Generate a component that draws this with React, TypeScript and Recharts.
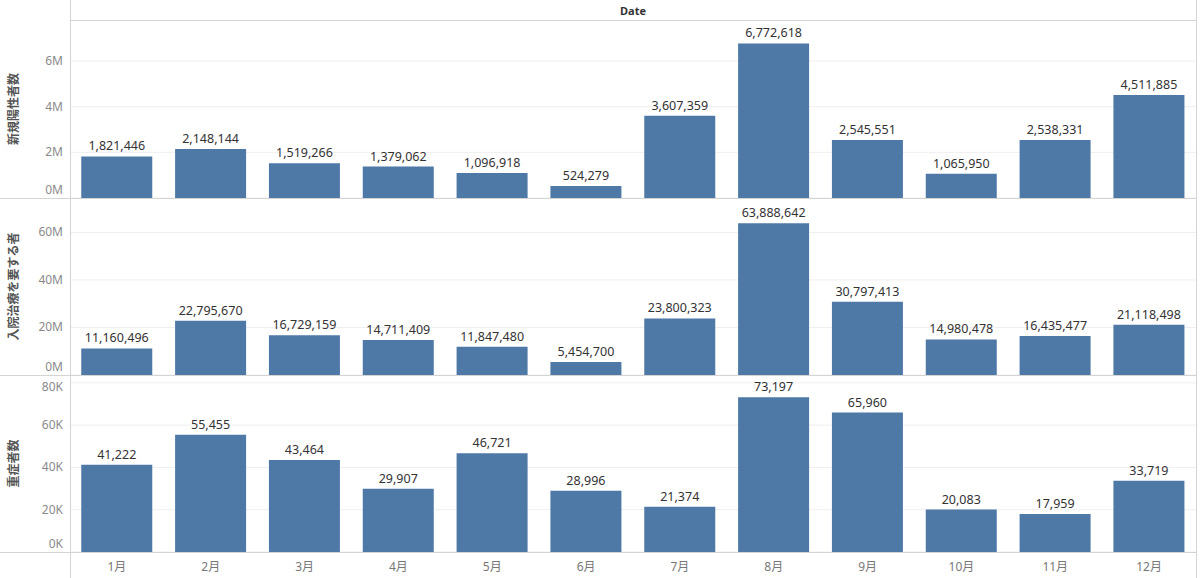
import React from 'react';
import { BarChart, Bar, XAxis, YAxis, CartesianGrid, LabelList } from 'recharts';

const months = ['1月', '2月', '3月', '4月', '5月', '6月', '7月', '8月', '9月', '10月', '11月', '12月'];
const newPositive = [1821446, 2148144, 1519266, 1379062, 1096918, 524279, 3607359, 6772618, 2545551, 1065950, 2538331, 4511885];
const hospitalized = [11160496, 22795670, 16729159, 14711409, 11847480, 5454700, 23800323, 63888642, 30797413, 14980478, 16435477, 21118498];
const severe = [41222, 55455, 43464, 29907, 46721, 28996, 21374, 73197, 65960, 20083, 17959, 33719];

const ticks1 = [0, 2000000, 4000000, 6000000];
const ticks2 = [0, 20000000, 40000000, 60000000];
const ticks3 = [0, 20000, 40000, 60000, 80000];

const titles = ['新規陽性者数', '入院治療を要する者', '重症者数'];

const FONT = '"Noto Sans", "Noto Sans CJK JP", sans-serif';
const BAR = '#4e79a7';

const build = (vals: number[]) => months.map((m, i) => ({ month: m, v: vals[i] }));

const fmtM = (v: number) => `${Math.round(v / 1000000)}M`;
const fmtK = (v: number) => `${Math.round(v / 1000)}K`;

const makeTick = (fmt: (v: number) => string) => (props: any) => {
  const { x, y, payload } = props;
  let shift = 0;
  if (payload.value === 0) shift = -8;
  else if (y < 12) shift = 12 - y;
  return (
    <text x={x} y={y + shift} dy={4} textAnchor="end" fill="#8a8a8a" fontSize={12} fontFamily={FONT}>
      {fmt(payload.value)}
    </text>
  );
};

const MonthTick = (props: any) => {
  const { x, y, payload } = props;
  return (
    <text x={x} y={y} dy={4} textAnchor="middle" fill="#777" fontSize={12} fontFamily={FONT}>
      {payload.value}
    </text>
  );
};

const fmtNum = (v: any) => Number(v).toLocaleString('en-US');

interface PanelProps {
  top: number;
  height: number;
  vals: number[];
  max: number;
  ticks: number[];
  fmt: (v: number) => string;
  title: string;
  showX: boolean;
}

const Panel = ({ top, height, vals, max, ticks, fmt, title, showX }: PanelProps) => (
  <div style={{ position: 'absolute', left: 0, top, width: 1200, height }}>
    <BarChart
      width={1200}
      height={height}
      data={build(vals)}
      margin={{ top: 0, right: 4, bottom: 0, left: 0 }}
      barCategoryGap="12%"
    >
      <CartesianGrid horizontal vertical={false} stroke="#efefef" />
      <XAxis
        dataKey="month"
        hide={!showX}
        height={showX ? 26 : 0}
        axisLine={false}
        tickLine={false}
        tick={<MonthTick />}
        tickMargin={9}
        interval={0}
      />
      <YAxis
        width={70}
        domain={[0, max]}
        ticks={ticks}
        interval={0}
        allowDataOverflow
        axisLine={false}
        tickLine={false}
        tickSize={0}
        tickMargin={7}
        tick={makeTick(fmt)}
        label={{
          value: title,
          angle: -90,
          position: 'insideLeft',
          offset: 14,
          style: { textAnchor: 'middle', fill: '#555', fontSize: 12, fontWeight: 'bold', fontFamily: FONT },
        }}
      />
      <Bar dataKey="v" fill={BAR} isAnimationActive={false}>
        <LabelList
          dataKey="v"
          position="top"
          offset={6}
          formatter={fmtNum}
          style={{ fill: '#333', fontSize: 12.5, fontFamily: FONT }}
        />
      </Bar>
    </BarChart>
  </div>
);

const Line = ({ left, top, width, height, color }: any) => (
  <div style={{ position: 'absolute', left, top, width, height, background: color }} />
);

export default function App() {
  return (
    <div style={{ position: 'relative', width: 1200, height: 578, background: '#fff', fontFamily: FONT, overflow: 'hidden' }}>
      <style>{'body{margin:0;}'}</style>
      <div
        style={{
          position: 'absolute',
          left: 70,
          width: 1126,
          top: 3,
          textAlign: 'center',
          fontSize: 11,
          fontWeight: 'bold',
          color: '#333',
          fontFamily: FONT,
        }}
      >
        Date
      </div>
      <Panel top={20} height={178} vals={newPositive} max={7800000} ticks={ticks1} fmt={fmtM} title={titles[0]} showX={false} />
      <Panel top={198} height={177} vals={hospitalized} max={74500000} ticks={ticks2} fmt={fmtM} title={titles[1]} showX={false} />
      <Panel top={375} height={203} vals={severe} max={83700} ticks={ticks3} fmt={fmtK} title={titles[2]} showX />
      <Line left={70} top={20} width={1126} height={1} color="#d4d4d4" />
      <Line left={0} top={198} width={1196} height={1} color="#d4d4d4" />
      <Line left={0} top={375} width={1196} height={1} color="#d4d4d4" />
      <Line left={0} top={552} width={1196} height={1} color="#d4d4d4" />
      <Line left={70} top={0} width={1} height={578} color="#d4d4d4" />
      <Line left={1196} top={0} width={1} height={578} color="#d4d4d4" />
    </div>
  );
}
